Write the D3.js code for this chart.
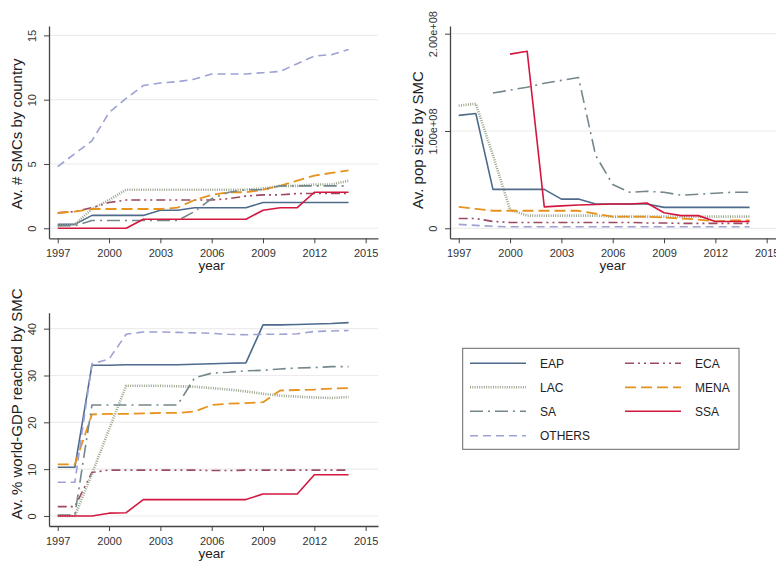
<!DOCTYPE html>
<html>
<head>
<meta charset="utf-8">
<script src="https://cdn.jsdelivr.net/npm/d3@7"></script>
<style>
  body { margin: 0; background: #fff; }
  svg { font-family: "Liberation Sans", Arial, sans-serif; }
</style>
</head>
<body>
<svg id="chart" width="776" height="562"></svg>
<script>
const years = [1997, 1998, 1999, 2000, 2001, 2002, 2003, 2004, 2005, 2006, 2007, 2008, 2009, 2010, 2011, 2012, 2013, 2014]
const regions = ["EAP", "ECA", "LAC", "MENA", "SA", "SSA", "OTHERS"]
const yearTicks = [1997, 2000, 2003, 2006, 2009, 2012, 2015]

// av. # SMCs by country
const smcEAP = [0.3, 0.3, 1.0, 1.0, 1.0, 1.0, 1.4, 1.4, 1.6, 1.6, 1.6, 1.6, 2.0, 2.0, 2.0, 2.0, 2.0, 2.0]
const smcECA = [1.2, 1.3, 1.6, 2.0, 2.2, 2.2, 2.2, 2.2, 2.2, 2.2, 2.3, 2.5, 2.6, 2.6, 2.7, 2.7, 2.7, 2.7]
const smcLAC = [0.2, 0.3, 1.5, 2.2, 3.0, 3.0, 3.0, 3.0, 3.0, 3.0, 3.0, 3.0, 3.1, 3.3, 3.3, 3.4, 3.4, 3.7]
const smcMENA = [1.2, 1.3, 1.5, 1.5, 1.5, 1.5, 1.5, 1.6, 2.2, 2.6, 2.8, 2.8, 3.0, 3.3, 3.7, 4.1, 4.3, 4.5]
const smcSA = [0.2, 0.2, 0.6, 0.6, 0.6, 0.6, 0.6, 0.6, 1.3, 2.3, 2.8, 3.0, 3.0, 3.3, 3.3, 3.3, 3.3, 3.3]
const smcSSA = [0, 0, 0, 0, 0, 0.7, 0.7, 0.7, 0.7, 0.7, 0.7, 0.7, 1.4, 1.6, 1.6, 2.8, 2.8, 2.8]
const smcOTHERS = [4.8, 5.8, 6.8, 9.0, 10.1, 11.1, 11.3, 11.4, 11.6, 12.0, 12.0, 12.0, 12.1, 12.2, 12.8, 13.4, 13.5, 13.9]

// av. pop size by SMC, in millions
const popEAP = [116, 118, 40, 40, 40, 40, 30, 30, 25, 25, 25, 25, 21.5, 21.5, 21.5, 21.5, 21.5, 21.5]
const popECA = [10, 10, 7, 6, 6, 6, 6, 6, 6, 6, 6, 5.5, 5.5, 5, 5, 5, 5, 5]
const popLAC = [126, 128, 75, 19, 13, 13, 13, 13, 13, 12, 12, 12, 12, 12, 12, 12, 12, 12]
const popMENA = [22, 20, 18, 18, 18, 18, 18, 18, 15, 12, 12, 12, 11, 10, 9, 7, 8, 8]
const popSA = [null, null, 139, 142, 145, 149, 152, 155, 75, 45, 37, 38, 37, 34, 35, 36, 37, 37]
const popSSA = [null, null, null, 179, 182, 22, 23, 24, 24.5, 25, 25, 26, 16, 13, 13, 7, 7, 7]
const popOTHERS = [4, 3, 2, 1.5, 1.5, 1.5, 1.5, 1.5, 1.5, 1.5, 1.5, 1.5, 1.5, 1.5, 1.5, 1.5, 1.5, 1.5]

// av. % world-GDP reached by SMC
const gdpEAP = [10.4, 10.4, 32.2, 32.2, 32.3, 32.3, 32.3, 32.3, 32.4, 32.5, 32.6, 32.7, 40.8, 40.8, 40.9, 41.0, 41.1, 41.3]
const gdpECA = [2.0, 2.0, 9.3, 9.8, 9.8, 9.8, 9.8, 9.8, 9.8, 9.7, 9.7, 9.8, 9.8, 9.8, 9.8, 9.8, 9.8, 9.8]
const gdpLAC = [0, 0, 9, 18.5, 27.8, 27.8, 27.8, 27.7, 27.6, 27.3, 27.0, 26.6, 26.1, 25.7, 25.5, 25.3, 25.2, 25.4]
const gdpMENA = [11.0, 11.0, 21.7, 21.8, 21.8, 21.9, 22.0, 22.0, 22.3, 23.7, 24.0, 24.1, 24.3, 26.8, 26.9, 27.0, 27.2, 27.3]
const gdpSA = [0.2, 0.2, 23.7, 23.7, 23.7, 23.7, 23.7, 23.7, 29.5, 30.5, 30.7, 31.0, 31.1, 31.4, 31.6, 31.7, 31.9, 31.9]
const gdpSSA = [0, 0, 0, 0.6, 0.7, 3.5, 3.5, 3.5, 3.5, 3.5, 3.5, 3.5, 4.7, 4.7, 4.7, 8.8, 8.8, 8.8]
const gdpOTHERS = [7.2, 7.2, 32.5, 33.5, 38.8, 39.3, 39.3, 39.2, 39.1, 39.0, 38.8, 38.7, 38.8, 38.8, 38.9, 39.4, 39.5, 39.6]

const styles = {
    EAP: { color: "#4e6b8c", dash: null, width: 1.6 },
    ECA: { color: "#9b4a62", dash: "9,4,2,4,2,4", width: 1.6 },
    LAC: { color: "#9aa68c", dash: "1,1.3", width: 2.6 },
    MENA: { color: "#e8921e", dash: "11,5", width: 1.8 },
    SA: { color: "#74878c", dash: "13,5,2,5", width: 1.6 },
    SSA: { color: "#d4173f", dash: null, width: 1.6 },
    OTHERS: { color: "#9da1d4", dash: "8,5", width: 1.6 },
}

const panels = [
    {
        x0: 49, x1: 378, top: 26, bottom: 238.3, yDomain: [-0.78, 15.73],
        yTicks: [0, 5, 10, 15], fmt: d => d,
        title: "Av. # SMCs by country", titleX: 22, titleY: 134,
        series: { EAP: smcEAP, ECA: smcECA, LAC: smcLAC, MENA: smcMENA, SA: smcSA, SSA: smcSSA, OTHERS: smcOTHERS }
    },
    {
        x0: 450, x1: 779, top: 26, bottom: 238.3, yDomain: [-10.3, 207.9],
        yTicks: [0, 100, 200], fmt: d => d === 0 ? "0" : (d / 100).toFixed(2) + "e+08",
        title: "Av. pop size by SMC", titleX: 423, titleY: 140,
        series: { EAP: popEAP, ECA: popECA, LAC: popLAC, MENA: popMENA, SA: popSA, SSA: popSSA, OTHERS: popOTHERS }
    },
    {
        x0: 49, x1: 378, top: 312.7, bottom: 526, yDomain: [-2.14, 43.41],
        yTicks: [0, 10, 20, 30, 40], fmt: d => d,
        title: "Av. % world-GDP reached by SMC", titleX: 22, titleY: 404,
        series: { EAP: gdpEAP, ECA: gdpECA, LAC: gdpLAC, MENA: gdpMENA, SA: gdpSA, SSA: gdpSSA, OTHERS: gdpOTHERS }
    },
]

const svg = d3.select("#chart")

panels.forEach(p => {
    const x = d3.scaleLinear().domain([1996.49, 2015.72]).range([p.x0, p.x1])
    const y = d3.scaleLinear().domain(p.yDomain).range([p.bottom, p.top])
    const g = svg.append("g")

    // grid
    g.selectAll(".grid")
        .data(p.yTicks)
        .enter()
        .append("line")
        .attr("x1", p.x0).attr("x2", p.x1)
        .attr("y1", d => y(d)).attr("y2", d => y(d))
        .style("stroke", "#ececec")
        .style("stroke-width", 1.2)

    const line = d3.line()
        .defined(d => d[1] != null)
        .x(d => x(d[0]))
        .y(d => y(d[1]))

    regions.forEach(r => {
        const st = styles[r]
        g.append("path")
            .datum(years.map((yr, i) => [yr, p.series[r][i]]))
            .attr("d", line)
            .style("fill", "none")
            .style("stroke", st.color)
            .style("stroke-width", st.width)
            .style("stroke-dasharray", st.dash)
            .style("stroke-linejoin", "round")
    })

    const xAxis = g.append("g")
        .attr("transform", `translate(0,${p.bottom})`)
        .call(d3.axisBottom(x).tickValues(yearTicks).tickFormat(d3.format("d")).tickSize(5).tickSizeOuter(0).tickPadding(6))
    xAxis.select(".domain").style("stroke", "#444").style("stroke-width", 1.3)
    xAxis.selectAll(".tick line").style("stroke", "#444")
    xAxis.selectAll("text").style("font-size", "11px").style("fill", "#333")

    const yAxis = g.append("g")
        .attr("transform", `translate(${p.x0},0)`)
        .call(d3.axisLeft(y).tickValues(p.yTicks).tickFormat(p.fmt).tickSize(5).tickSizeOuter(0))
    yAxis.select(".domain").style("stroke", "#444").style("stroke-width", 1.3)
    yAxis.selectAll(".tick line").style("stroke", "#444")
    yAxis.selectAll("text")
        .attr("transform", "rotate(-90)")
        .attr("x", 0).attr("y", -13).attr("dy", 0)
        .style("text-anchor", "middle")
        .style("font-size", "11px").style("fill", "#333")

    g.append("text")
        .attr("transform", `translate(${p.titleX},${p.titleY}) rotate(-90)`)
        .style("text-anchor", "middle")
        .style("font-size", "15px").style("fill", "#222")
        .text(p.title)

    g.append("text")
        .attr("x", x(2006)).attr("y", p.bottom + 31.5)
        .style("text-anchor", "middle")
        .style("font-size", "13.5px").style("fill", "#222")
        .text("year")
})

// legend
const legend = svg.append("g")
legend.append("rect")
    .attr("x", 462.7).attr("y", 348.3).attr("width", 276.3).attr("height", 101)
    .style("fill", "#fff").style("stroke", "#666").style("stroke-width", 1)

const legendCols = [470, 625]
const legendRows = [363.3, 387.3, 411.3, 435.7]
regions.forEach((r, i) => {
    const cx = legendCols[i % 2], cy = legendRows[Math.floor(i / 2)]
    const st = styles[r]
    legend.append("line")
        .attr("x1", cx).attr("x2", cx + 56).attr("y1", cy).attr("y2", cy)
        .style("stroke", st.color).style("stroke-width", st.width)
        .style("stroke-dasharray", st.dash)
    legend.append("text")
        .attr("x", cx + 70).attr("y", cy + 4.3)
        .style("font-size", "12px").style("fill", "#222")
        .text(r)
})
</script>
</body>
</html>
